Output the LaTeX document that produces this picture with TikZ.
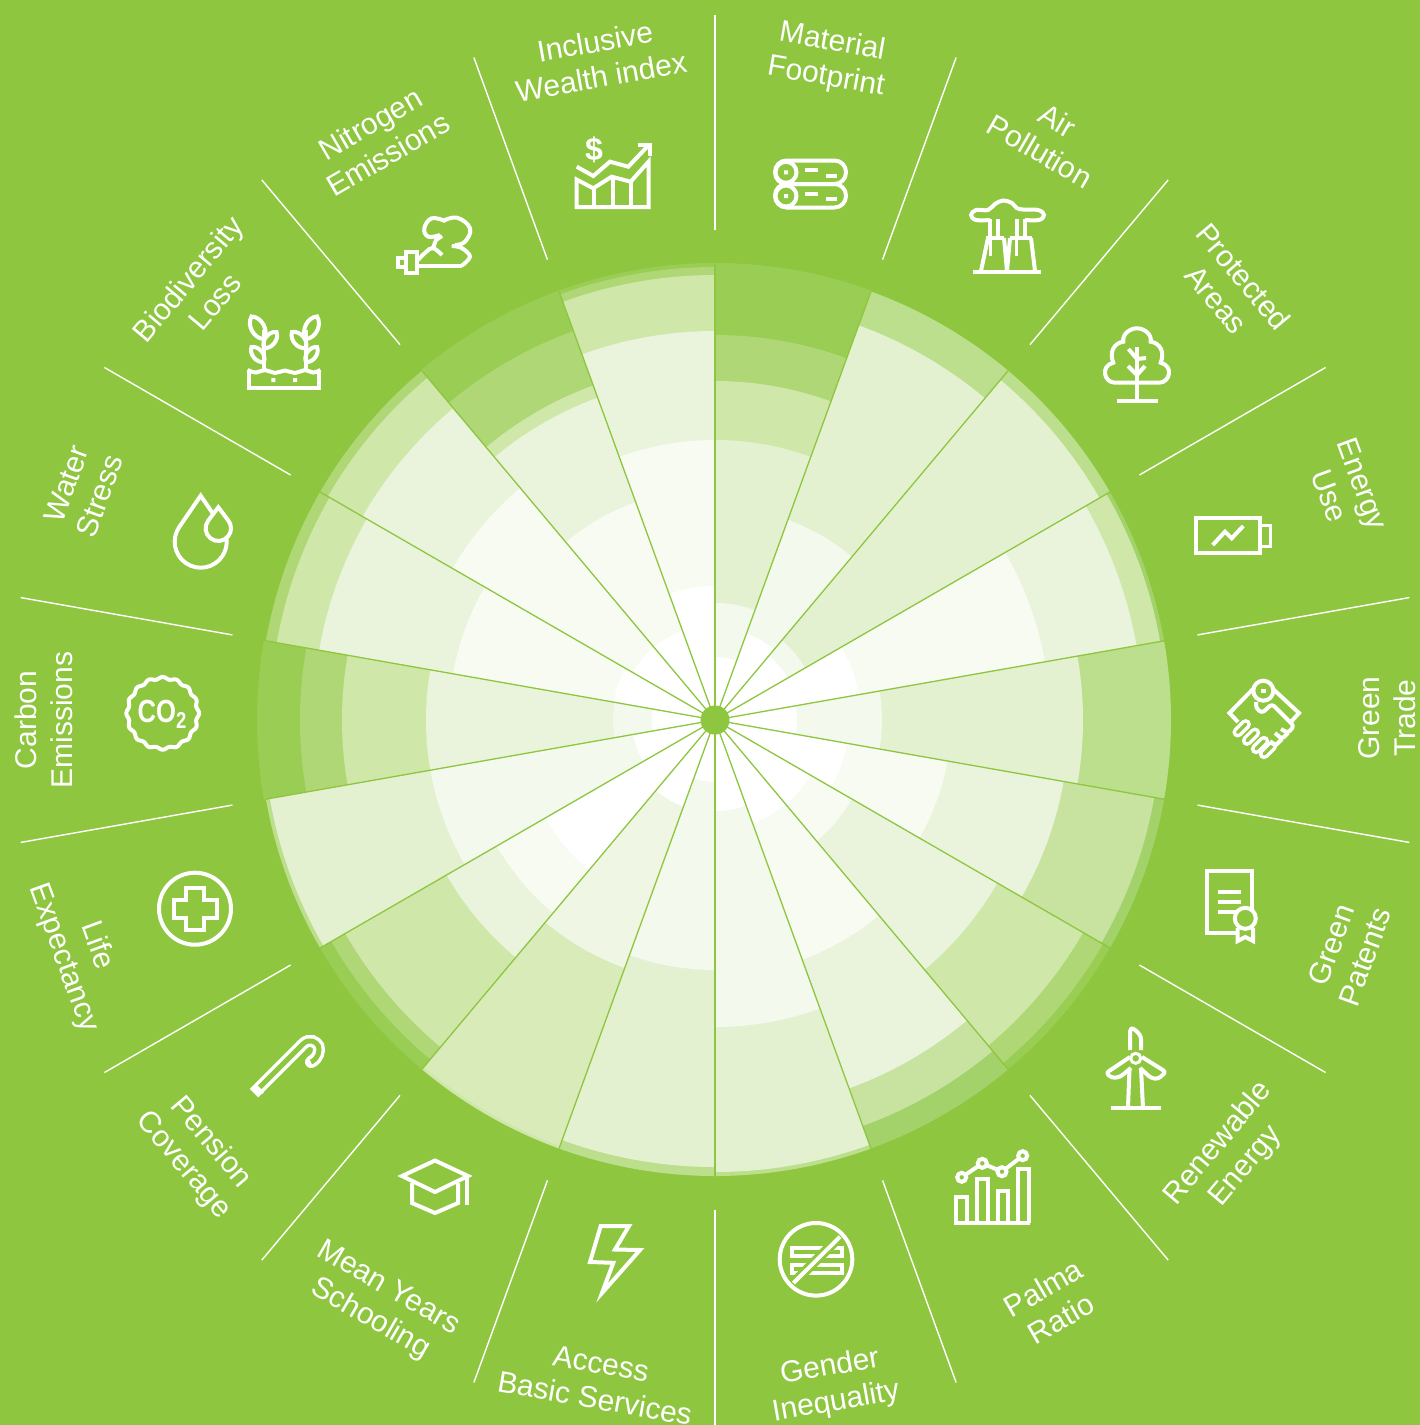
\documentclass[tikz,border=0pt]{standalone}
\usepackage{fontspec}
\setmainfont{Liberation Sans}
\definecolor{bg}{HTML}{8EC63F}
\definecolor{Ca}{HTML}{F8FBF2}
\definecolor{Cb}{HTML}{F3F9EC}
\definecolor{Cc}{HTML}{EAF4DC}
\definecolor{Cd}{HTML}{E4F1D1}
\definecolor{Ce}{HTML}{D8EBB9}
\definecolor{Cf}{HTML}{CFE8AA}
\definecolor{Cg}{HTML}{C8E3A0}
\definecolor{Ch}{HTML}{BBDF8C}
\definecolor{Ci}{HTML}{AFD775}
\definecolor{Cj}{HTML}{A3D16A}
\definecolor{Ck}{HTML}{9ACD53}
\definecolor{Cx}{HTML}{EFF6E3}
\definecolor{W}{HTML}{FFFFFF}
\newcommand{\sector}[3]{\foreach \r/\c in {#3}{\fill[\c] (0,0) -- (#1:\r pt) arc[start angle=#1,end angle=#2,radius=\r pt] -- cycle;}}
\newcommand{\lab}[5]{\node[labeltext,rotate=#4] (#1) at (#2,#3) {#5};}
\tikzset{
  labeltext/.style={text=white,align=center,font=\fontsize{30}{35.5}\selectfont,inner sep=0pt},
  ico/.style={draw=white,line width=4pt,line join=miter,line cap=butt},
  icofill/.style={ico,fill=bg},
  sep/.style={draw=white,line width=1.4pt},
  spoke/.style={draw=bg,line width=1.3pt}
}
\begin{document}
\begin{tikzpicture}[x=1pt,y=-1pt]
\useasboundingbox (0,0) rectangle (1420,1425);
\fill[bg] (0,0) rectangle (1420,1425);
\begin{scope}[shift={(715pt,-720pt)},x=1pt,y=1pt]
\sector{70}{90}{457/Ck,385/Ci,339/Cf,280/Cd,117/Cb,63/W}
\sector{50}{70}{456/Ch,420/Cd,213/Cb,92/W}
\sector{30}{50}{456/Ch,444/Cd,104/Cb,84/W}
\sector{10}{30}{456/Cj,452/Cf,428/Cc,335/Ca,146/W}
\sector{-10}{10}{456/Ch,368/Cd,167/Cb,82/W}
\sector{-30}{-10}{456/Cj,446/Cg,354/Cc,236/Ca,134/W}
\sector{-50}{-30}{456/Ck,448/Ci,425/Cf,326/Cc,158/Ca,110/W}
\sector{-70}{-50}{456/Cj,432/Cg,392/Cc,255/Ca,110/W}
\sector{-90}{-70}{456/Ch,452/Cd,307/Cb,91/W}
\sector{-110}{-90}{456/Ch,447/Cd,250/Cb,62/W}
\sector{-130}{-110}{456/Cf,453/Ce,264/Cx,92/W}
\sector{-150}{-130}{456/Ck,443/Ci,427/Cf,310/Cc,252/Ca,196/W}
\sector{-170}{-150}{456/Ch,452/Cd,289/Cb,83/W}
\sector{170}{190}{458/Ck,415/Ci,373/Cf,289/Cc,102/Cb,63/W}
\sector{150}{170}{456/Ci,445/Cf,402/Cc,266/Ca,103/W}
\sector{130}{150}{456/Ci,447/Cf,407/Cc,303/Ca,95/W}
\sector{110}{130}{457/Ck,414/Ci,356/Cf,343/Cc,232/Ca,95/W}
\sector{90}{110}{457/Ck,453/Ci,445/Cf,389/Cc,280/Ca,134/W}
\foreach \a in {10,30,...,350}{\draw[spoke] (0,0) -- (\a:456pt);}
\fill[bg] (0,0) circle[radius=14.5pt];
\foreach \a in {10,30,...,350}{\draw[sep] (\a:490pt) -- (\a:705pt);}
% water drop
\begin{scope}[shift={(200.7pt-715pt,-541.7pt+720pt)}]
\draw[ico] (0,46pt) -- (145.6:26pt) arc[start angle=145.6,end angle=394.4,radius=26pt] -- cycle;
\end{scope}
\begin{scope}[shift={(218.3pt-715pt,-528.3pt+720pt)}]
\draw[icofill] (0,21pt) -- (142.8:12.7pt) arc[start angle=142.8,end angle=397.2,radius=12.7pt] -- cycle;
\end{scope}
\end{scope}
% labels
\lab{material}{829}{60}{-10}{Material\\Footprint}
\lab{air}{1049}{136}{-30}{Air\\Pollution}
\lab{protected}{1230}{288}{-50}{Protected\\Areas}
\lab{energy}{1346}{490}{-70}{Energy\\Use}
\lab{trade}{1387}{718}{90}{Green\\Trade}
\lab{patents}{1348}{951}{70}{Green\\Patents}
\lab{renewable}{1232}{1155}{50}{Renewable\\Energy}
\lab{palma}{1052}{1303}{30}{Palma\\Ratio}
\lab{gender}{833}{1385}{10}{Gender\\Inequality}
\lab{access}{598}{1381}{-10}{Access\\Basic Services}
\lab{mean}{379}{1304}{-30}{Mean Years\\Schooling}
\lab{pension}{197}{1154}{-50}{Pension\\Coverage}
\lab{life}{80}{952}{-70}{Life\\Expectancy}
\lab{carbon}{44}{720}{90}{Carbon\\Emissions}
\lab{water}{83}{490}{70}{Water\\Stress}
\lab{biodiv}{201}{290}{50}{Biodiversity\\Loss}
\lab{nitrogen}{379}{139}{30}{Nitrogen\\Emissions}
\lab{inclusive}{598}{59}{10}{Inclusive\\Wealth index}
% logs
\draw[ico,rounded corners=11.5pt] (775,160.5) rectangle (846,184);
\draw[ico,rounded corners=11.5pt] (775,184) rectangle (846,207.5);
\draw[icofill] (786,172.3) circle[radius=10.5];
\draw[icofill] (786,196) circle[radius=10.5];
\fill[white] (784,170.3) rectangle (788,174.3) (784,194) rectangle (788,198);
\draw[ico] (805,170) -- (818,170) (826,175.5) -- (837,175.5) (805,193.5) -- (818,193.5) (826,199) -- (837,199);
% air pollution
\draw[ico] plot[smooth,tension=.6] coordinates {(990,220) (976,220) (971,215) (976,210) (988,210) (995,204) (1003,200.5) (1012,203) (1019,209) (1038,210) (1044,215) (1039,220) (1025,220)};
\draw[ico] (990,219) -- (990,238) (998,219) -- (998,238) (1017,219) -- (1017,238) (1025,219) -- (1025,238);
\draw[ico] (973,272) -- (1041,272);
\draw[ico,line join=round] (988,238) -- (981,271) (1004,238) -- (1007,271) -- (1010,238) (1031,238) -- (1035,271);
\draw[ico] (986,238) -- (1004,238) (1010,238) -- (1032,238);
\draw[ico,line width=3pt] (990,238) -- (990,256) (1016,238) -- (1016,256);
% tree
\draw[ico] (1115,382.7) .. controls (1104,382.7) and (1100,366) .. (1113.3,362.7) .. controls (1109,352) and (1114,343) .. (1123.3,341.7) .. controls (1122,334) and (1130,328.3) .. (1137,328.3) .. controls (1144,328.3) and (1152,334) .. (1150.7,341.7) .. controls (1160,343) and (1165,352) .. (1160.7,362.7) .. controls (1174,366) and (1170,382.7) .. (1159,382.7) -- cycle;
\draw[ico] (1137,347) -- (1137,400);
\draw[ico] (1117,400.5) -- (1158,400.5);
\draw[ico] (1128.5,349) -- (1137,359) -- (1146,358) (1128,366) -- (1137,375) -- (1145,366);
% battery
\draw[ico] (1196,517.5) rectangle (1259.5,553);
\draw[ico,line width=3pt] (1261,525) -- (1270,525) -- (1270,546) -- (1261,546);
\draw[ico] (1212.7,545) -- (1225,531.7) -- (1231.7,538.3) -- (1243.3,526);
% handshake
\draw[ico] (1253,689) -- (1229.5,713) -- (1238,722);
\draw[ico] (1273,689) -- (1299,713) -- (1290,723);
\foreach \x/\y in {1241.7/728.3,1251/736.7,1260/745,1268/750}{
  \draw[white,line width=10.5pt,line cap=round] (\x-4,\y+4) -- (\x+4,\y-4);
  \draw[bg,line width=3.5pt,line cap=round] (\x-4,\y+4) -- (\x+4,\y-4);
}
\draw[ico,line join=round,rounded corners=3pt] (1256,702) -- (1256,708) -- (1262,713) -- (1272,704) -- (1294,726) -- (1288,733) -- (1281,729);
\draw[ico,line join=round,rounded corners=3pt] (1288,733) -- (1282,739) -- (1275,733) (1282,739) -- (1275,746) -- (1270,741);
\draw[icofill] (1263.3,690.7) circle[radius=10];
\fill[white] (1261,688.7) rectangle (1265.5,693);
% certificate
\draw[ico] (1207,870.5) rectangle (1252,933);
\draw[ico] (1217.7,892.3) -- (1241,892.3) (1217.7,901.7) -- (1241,901.7) (1217.7,911.7) -- (1236,911.7);
\draw[icofill] (1237.7,928) -- (1237.7,941) -- (1245.3,937) -- (1253,941) -- (1253,928);
\draw[icofill] (1245.3,918.3) circle[radius=10.5];
% turbine
\draw[ico] (1111,1108.3) -- (1160.7,1108.3);
\draw[ico] (1129.5,1068) -- (1128,1108) (1141,1068) -- (1143,1108);
\draw[ico,rounded corners=3pt,line join=round] (1130,1050) -- (1130,1028.5) -- (1134,1028.5) -- (1141,1036) -- (1141,1050);
\draw[ico,rounded corners=3pt,line join=round] (1130,1057) -- (1106,1073) -- (1112,1078) -- (1120,1077) -- (1131,1068);
\draw[ico,rounded corners=3pt,line join=round] (1142,1057) -- (1166,1072) -- (1158,1079) -- (1151,1078) -- (1140,1068);
\draw[icofill,line width=3pt] (1135.7,1058.3) circle[radius=5];
% palma chart
\draw[ico] (954,1223.3) -- (1030,1223.3);
\draw[ico] (956,1223) -- (956,1197) -- (966.7,1197) -- (966.7,1223) (977.3,1223) -- (977.3,1179) -- (988.3,1179) -- (988.3,1223) (998.3,1223) -- (998.3,1190.7) -- (1008.3,1190.7) -- (1008.3,1223) (1018,1223) -- (1018,1169) -- (1029,1169) -- (1029,1223);
\draw[ico] (961.7,1177.3) -- (982.3,1163.3) -- (1002,1171.7) -- (1022.7,1155.7);
\foreach \x/\y in {961.7/1177.3,982.3/1163.3,1002/1171.7,1022.7/1155.7}{\draw[icofill] (\x,\y) circle[radius=4.5];}
% gender
\draw[ico] (816,1259.3) circle[radius=36.3];
\draw[ico] (792,1247.5) rectangle (841.5,1256) (792,1265) rectangle (841.5,1273.3);
\draw[bg,line width=10pt] (796,1280.5) -- (837,1239.5);
\draw[ico] (793.5,1283) -- (840,1236.7);
% lightning
\draw[ico] (600.7,1226) -- (629,1226) -- (615,1249.5) -- (640,1250) -- (602,1293) -- (613.3,1262.8) -- (590,1262) -- cycle;
% graduation cap
\draw[ico] (412,1183) -- (412,1203) -- (435,1213) -- (458,1203) -- (458,1183);
\draw[icofill] (435,1160.5) -- (402,1176) -- (435,1192) -- (468,1176) -- cycle;
\draw[ico] (467,1176) -- (467,1205);
% cane
\draw[white,line width=12pt] (254,1093) -- (301,1046) plot[smooth,tension=.8] coordinates {(301,1046) (308,1041) (316,1043) (319,1050) (316,1058) (311,1062)};
\draw[white,line width=12pt,line cap=round] (316,1058) -- (311,1062);
\draw[bg,line width=5pt] (258,1089) -- (301,1046) plot[smooth,tension=.8] coordinates {(301,1046) (308,1041) (316,1043) (319,1050) (316,1058) (311,1062)};
\draw[white,line width=3pt] (256,1086) -- (263,1093);
% plus circle
\draw[ico] (195,908.7) circle[radius=36];
\draw[ico] (186,887.5) -- (204,887.5) -- (204,899.7) -- (216.5,899.7) -- (216.5,917.7) -- (204,917.7) -- (204,930) -- (186,930) -- (186,917.7) -- (173.5,917.7) -- (173.5,899.7) -- (186,899.7) -- cycle;
% co2
\draw[ico,smooth] plot[domain=0:360,samples=145] ({162.7+(35.3+1.1*cos(16*\x))*cos(\x)},{713.3+(35.3+1.1*cos(16*\x))*sin(\x)}) -- cycle;
\node[text=white,inner sep=0pt,xscale=.8,yscale=1,transform shape,font=\fontsize{32}{32}\selectfont\bfseries] (cotwo) at (162,714) {CO\raisebox{-6pt}{\fontsize{23}{23}\selectfont 2}};
% plants
\draw[ico] (249,370) -- (249,387.7) -- (319,387.7) -- (319,370);
\draw[ico] plot[smooth,tension=.7] coordinates {(247.5,370) (256,372.5) (265,370) (275,373) (285,370.5) (295,373) (305,370) (313,372.5) (320.5,370)};
\fill[white] (271.3,378) rectangle (275.3,382) (293,378) rectangle (297,382);
\draw[ico] (264.3,370) -- (264.3,330) (306,370) -- (306,330);
\draw[ico] (264,339) to[bend left=60] (251.5,316.5) to[bend left=60] (264,339);
\draw[ico] (264,348) to[bend right=60] (276.5,332) to[bend right=60] (264,348);
\draw[ico] (264,362) to[bend left=60] (251.5,347) to[bend left=60] (264,362);
\draw[ico] (306,339) to[bend right=60] (317,316.5) to[bend right=60] (306,339);
\draw[ico] (306,348) to[bend left=60] (292,332) to[bend left=60] (306,348);
\draw[ico] (306,362) to[bend right=60] (317,347) to[bend right=60] (306,362);
% nitrogen
\draw[ico] (405.7,252) rectangle (417.3,272.5);
\draw[ico] (398,258) rectangle (405.7,267);
\draw[ico] plot[smooth,tension=.7] coordinates {(440,235) (428.3,236.7) (424.3,228.3) (431.7,218.3) (445,221)};
\draw[ico] plot[smooth,tension=.7] coordinates {(443,221) (457,217.7) (470,228.3) (465,241.7) (455,245)};
\draw[ico] plot[smooth,tension=.6] coordinates {(451.7,246) (461.7,248) (470,256.7) (461.7,265.7)};
\draw[ico] (461.7,265.7) -- (417.3,265.7);
\draw[ico] plot[smooth,tension=.6] coordinates {(418,260) (426,252) (433,248) (442,255)};
\draw[ico] (433,248) -- (436,240) -- (442,236);
% inclusive chart
\draw[ico] (576.5,179.5) -- (576.5,207) -- (648.5,207) -- (648.5,161.7) -- (630.7,181.7) -- (611.7,176.7) -- (593.3,188.3) -- cycle;
\draw[ico] (594,188) -- (594,207) (612.7,177) -- (612.7,207) (630.7,182) -- (630.7,207);
\draw[ico] (576.7,166.7) -- (593.3,176) -- (610,161.7) -- (628.3,166.7) -- (648.3,145.5);
\draw[ico] (638.3,145) -- (649.5,145) -- (649.5,156);
\node[text=white,inner sep=0pt,font=\fontsize{32}{32}\selectfont\bfseries] (dollar) at (594,150) {\$};
\end{tikzpicture}
\end{document}
